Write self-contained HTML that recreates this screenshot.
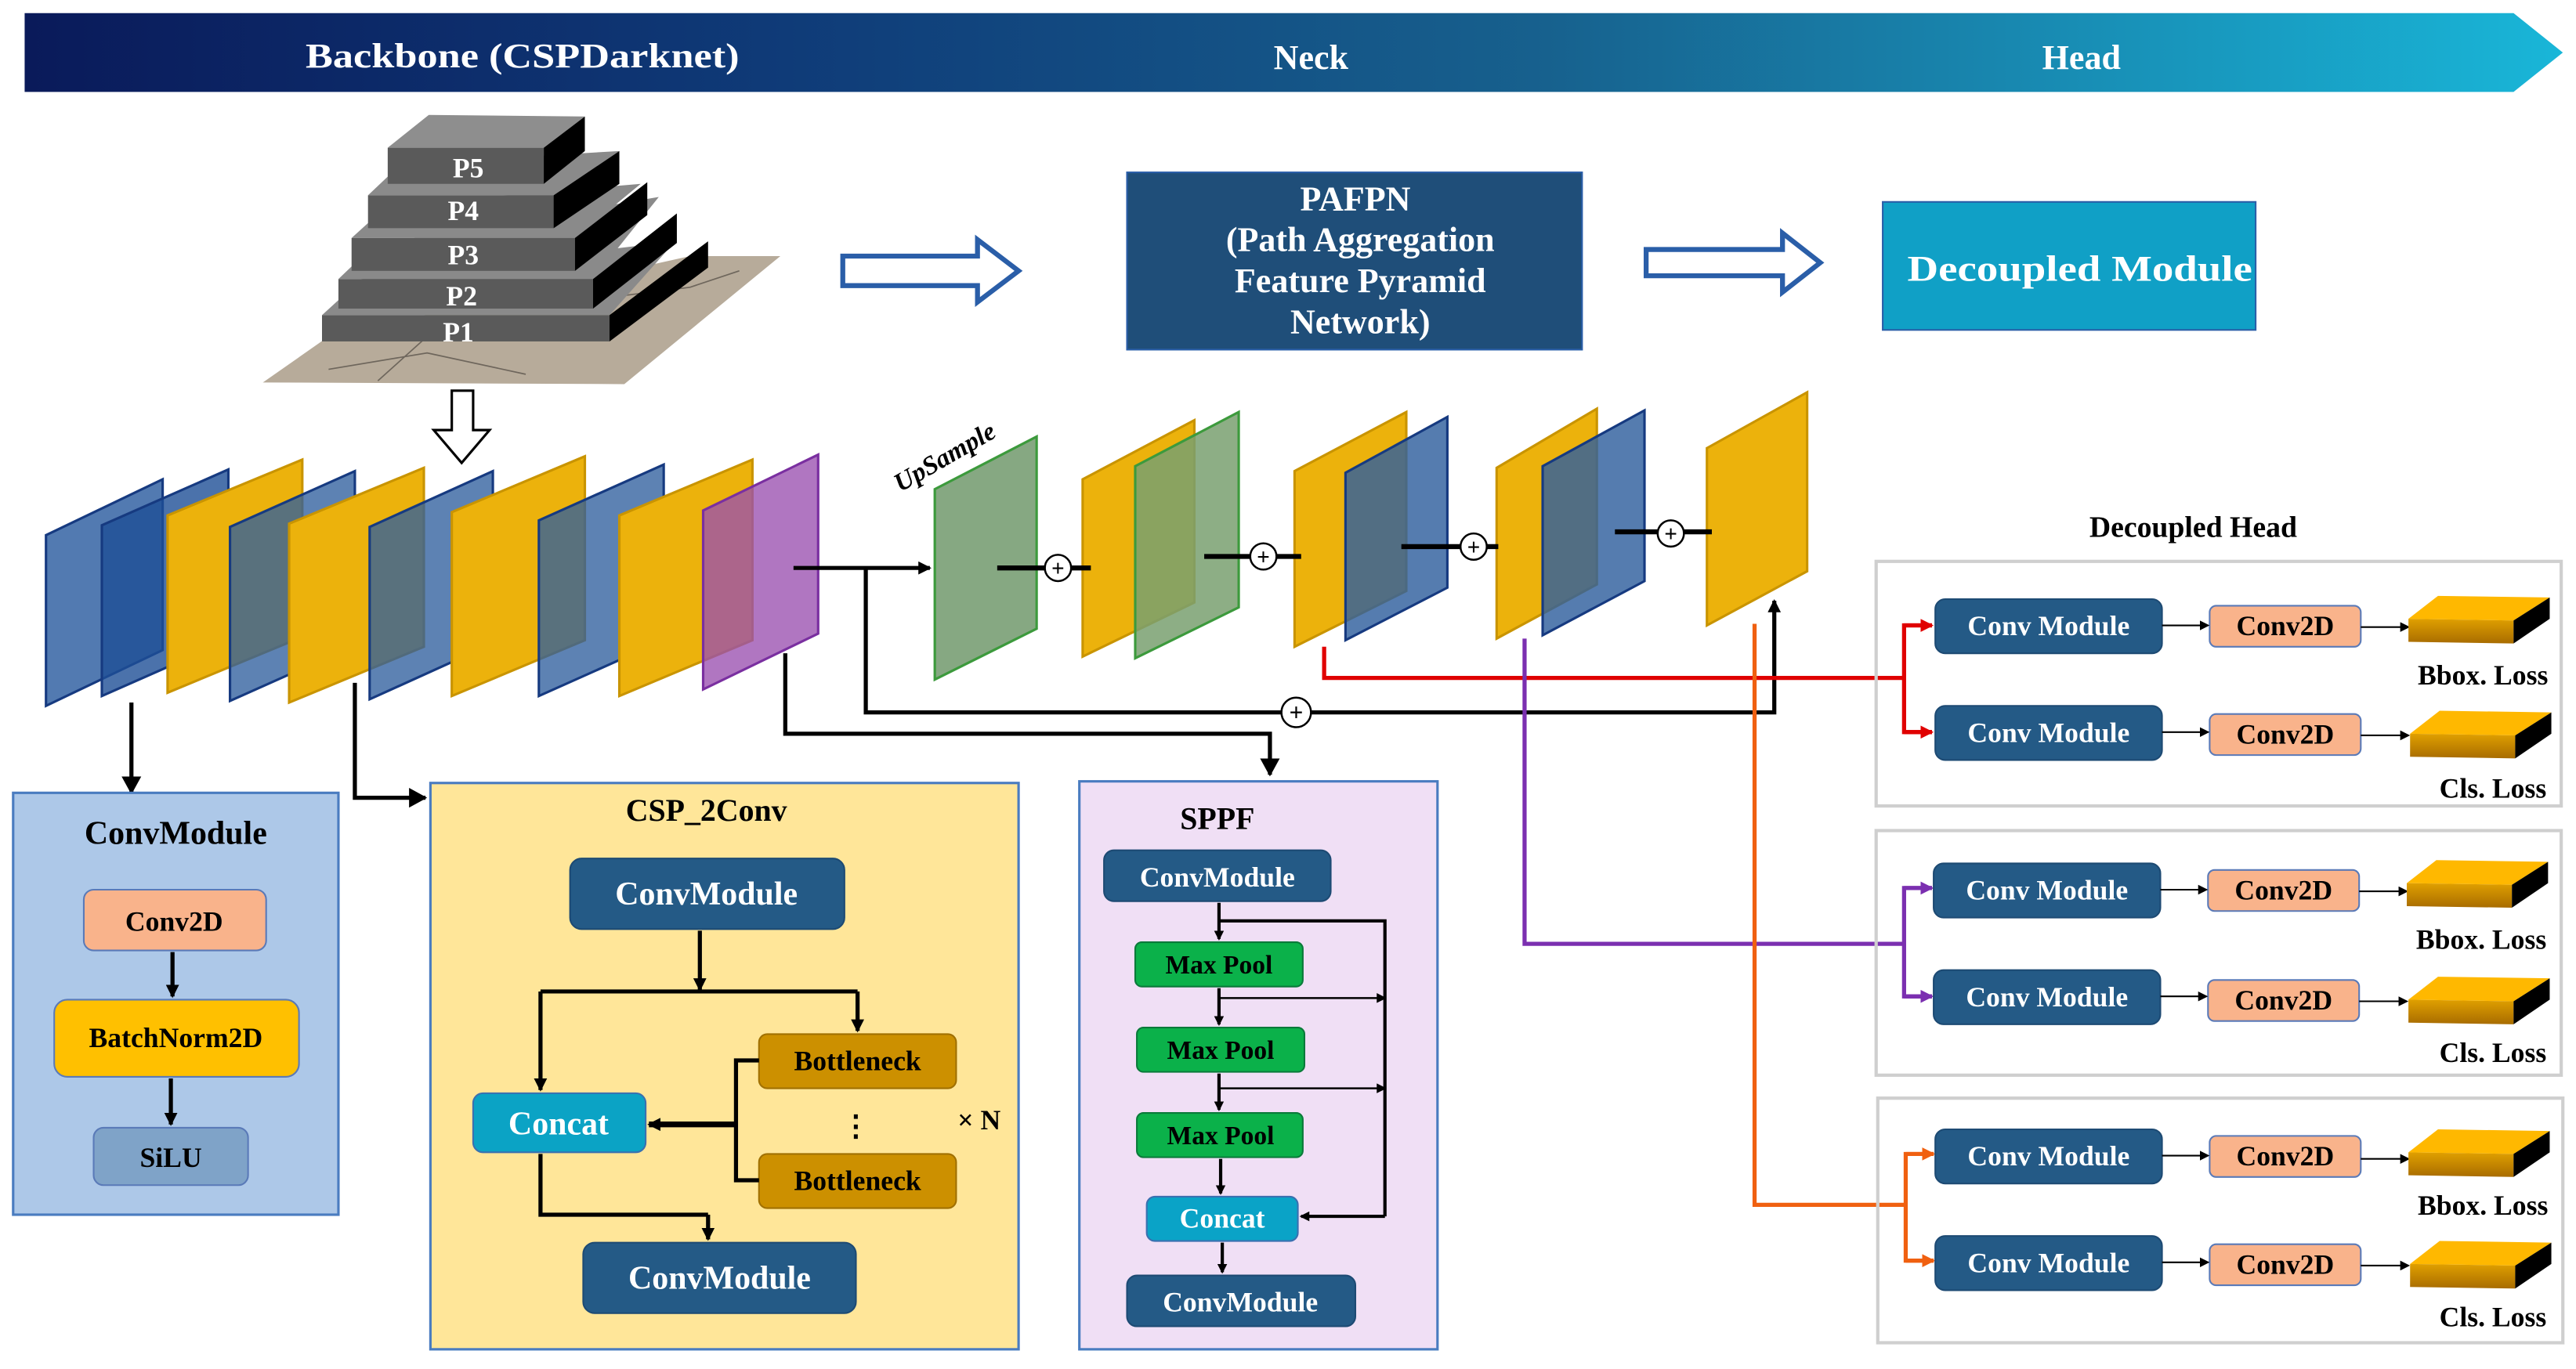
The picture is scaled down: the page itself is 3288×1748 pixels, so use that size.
<!DOCTYPE html>
<html><head><meta charset="utf-8"><style>
html,body{margin:0;padding:0;background:#fff;}
svg{display:block;}
text{font-family:"Liberation Serif",serif;font-weight:bold;}
</style></head><body>
<svg width="3288" height="1748" viewBox="0 0 1568 834" preserveAspectRatio="none" xmlns="http://www.w3.org/2000/svg">
<defs>
<linearGradient id="ban" x1="0" x2="1" y1="0" y2="0">
<stop offset="0" stop-color="#0a1a5a"/><stop offset="0.3" stop-color="#0f3b78"/><stop offset="0.6" stop-color="#17618e"/><stop offset="1" stop-color="#19b6d8"/>
</linearGradient>
<linearGradient id="slab" x1="0" x2="0" y1="0" y2="1"><stop offset="0" stop-color="#e0a000"/><stop offset="1" stop-color="#a86c00"/></linearGradient>
<marker id="ah" markerWidth="8" markerHeight="8" refX="7" refY="4" orient="auto" markerUnits="userSpaceOnUse"><path d="M0,0 L8,4 L0,8 z" fill="#000"/></marker>
<marker id="ahb" markerWidth="12" markerHeight="12" refX="10" refY="6" orient="auto" markerUnits="userSpaceOnUse"><path d="M0,0 L11,6 L0,12 z" fill="#000"/></marker>
<marker id="ahs" markerWidth="6" markerHeight="6" refX="5" refY="3" orient="auto" markerUnits="userSpaceOnUse"><path d="M0,0 L6,3 L0,6 z" fill="#000"/></marker>
<marker id="ar" markerWidth="8" markerHeight="8" refX="7" refY="4" orient="auto" markerUnits="userSpaceOnUse"><path d="M0,0 L8,4 L0,8 z" fill="#e00000"/></marker>
<marker id="ap" markerWidth="8" markerHeight="8" refX="7" refY="4" orient="auto" markerUnits="userSpaceOnUse"><path d="M0,0 L8,4 L0,8 z" fill="#7b2fb0"/></marker>
<marker id="ao" markerWidth="8" markerHeight="8" refX="7" refY="4" orient="auto" markerUnits="userSpaceOnUse"><path d="M0,0 L8,4 L0,8 z" fill="#f06010"/></marker>
</defs>

<!-- banner -->
<polygon points="15,8 1530,8 1560,32 1530,56 15,56" fill="url(#ban)"/>
<text x="186" y="41" font-size="21" fill="#fff" textLength="264" lengthAdjust="spacingAndGlyphs">Backbone (CSPDarknet)</text>
<text x="798" y="42" font-size="21" fill="#fff" text-anchor="middle">Neck</text>
<text x="1267" y="42" font-size="21" fill="#fff" text-anchor="middle">Head</text>

<!-- pyramid -->
<polygon points="160,233 380,234 475,156 420,156 200,205" fill="#b7ab9a"/>
<path d="M200,225 L260,215 L320,228 M380,180 L420,175 L450,165 M230,232 L260,205" stroke="#6e665c" stroke-width="0.8" fill="none"/>
<polygon points="196,192 220,170 411,147 371,192" fill="#8a8a8a"/>
<rect x="196" y="192" width="175" height="16" fill="#5a5a5a"/>
<polygon points="371,192 431,147 431,163 371,208" fill="#000"/>
<polygon points="206,170 228,149 401,120 361,170" fill="#8a8a8a"/>
<rect x="206" y="170" width="155" height="18" fill="#5a5a5a"/>
<polygon points="361,170 412,130 412,148 361,188" fill="#000"/>
<polygon points="214,145 236,125 390,112 350,145" fill="#8a8a8a"/>
<rect x="214" y="145" width="136" height="20" fill="#5a5a5a"/>
<polygon points="350,145 394,111 394,131 350,165" fill="#000"/>
<polygon points="224,119 244,100 377,92 337,119" fill="#8a8a8a"/>
<rect x="224" y="119" width="113" height="20" fill="#5a5a5a"/>
<polygon points="337,119 377,92 377,112 337,139" fill="#000"/>
<polygon points="236,90 261,70 356,71 331,90" fill="#8e8e8e"/>
<rect x="236" y="90" width="95" height="22" fill="#5a5a5a"/>
<polygon points="331,90 356,71 356,92 331,112" fill="#000"/>
<g fill="#fff" font-size="17" text-anchor="middle">
<text x="285" y="108">P5</text><text x="282" y="134">P4</text><text x="282" y="161">P3</text><text x="281" y="186">P2</text><text x="279" y="208">P1</text>
</g>

<!-- hollow arrows -->
<polygon points="275,238 288,238 288,262 298,262 281,282 264,262 275,262" fill="#fff" stroke="#000" stroke-width="1.5"/>
<polygon points="513,156 595,156 595,146 620,165 595,184 595,174 513,174" fill="#fff" stroke="#2a5ea8" stroke-width="3"/>
<polygon points="1002,152 1085,152 1085,142 1108,160 1085,178 1085,168 1002,168" fill="#fff" stroke="#2a5ea8" stroke-width="3"/>

<!-- PAFPN & decoupled module -->
<rect x="686" y="105" width="277" height="108" fill="#1f4e79" stroke="#2a5ea8"/>
<g fill="#fff" font-size="21" text-anchor="middle">
<text x="825" y="128">PAFPN</text><text x="828" y="153">(Path Aggregation</text><text x="828" y="178">Feature Pyramid</text><text x="828" y="203">Network)</text>
</g>
<rect x="1146" y="123" width="227" height="78" fill="#10a0c6" stroke="#2a5ea8"/>
<text x="1161" y="171" font-size="22" fill="#fff" textLength="210" lengthAdjust="spacingAndGlyphs">Decoupled Module</text>

<!-- backbone plates -->
<g stroke-width="1.5">
<polygon points="28,326 99,292 99,396 28,430" fill="#3a68a6" fill-opacity="0.88" stroke="#163a80"/>
<polygon points="62,320 139,286 139,390 62,424" fill="#1e4f96" fill-opacity="0.8" stroke="#163a80"/>
<polygon points="102,314 184,280 184,388 102,422" fill="#ecb20c" stroke="#c99400"/>
<polygon points="140,321 216,287 216,393 140,427" fill="#2f5f9e" fill-opacity="0.78" stroke="#163a80"/>
<polygon points="176,319 258,285 258,394 176,428" fill="#ecb20c" stroke="#c99400"/>
<polygon points="225,321 300,287 300,392 225,426" fill="#2f5f9e" fill-opacity="0.78" stroke="#163a80"/>
<polygon points="275,312 356,278 356,390 275,424" fill="#ecb20c" stroke="#c99400"/>
<polygon points="328,317 404,283 404,390 328,424" fill="#2f5f9e" fill-opacity="0.78" stroke="#163a80"/>
<polygon points="377,314 458,280 458,390 377,424" fill="#ecb20c" stroke="#c99400"/>
<polygon points="428,311 498,277 498,386 428,420" fill="#9a4fb0" fill-opacity="0.78" stroke="#7a2fa0"/>
</g>

<!-- neck plates -->
<g stroke-width="1.5">
<polygon points="569,298 631,266 631,383 569,414" fill="#86a882" stroke="#3c9a3c"/>
<polygon points="659,292 727,256 727,367 659,400" fill="#ecb20c" stroke="#c99400"/>
<polygon points="691,284 754,251 754,370 691,401" fill="#79a070" fill-opacity="0.85" stroke="#3c9a3c"/>
<polygon points="788,287 856,251 856,360 788,394" fill="#ecb20c" stroke="#c99400"/>
<polygon points="819,288 881,254 881,358 819,390" fill="#2f5f9e" fill-opacity="0.82" stroke="#163a80"/>
<polygon points="911,285 972,249 972,356 911,389" fill="#ecb20c" stroke="#c99400"/>
<polygon points="939,284 1001,250 1001,354 939,387" fill="#2f5f9e" fill-opacity="0.82" stroke="#163a80"/>
<polygon points="1039,273 1100,239 1100,348 1039,381" fill="#ecb20c" stroke="#c99400"/>
</g>
<text x="0" y="0" font-size="16" font-style="italic" transform="translate(548,300) rotate(-30)">UpSample</text>

<!-- plus nodes -->
<g stroke="#000" stroke-width="3" fill="none">
<line x1="607" y1="346" x2="664" y2="346"/>
<line x1="733" y1="339" x2="792" y2="339"/>
<line x1="853" y1="333" x2="912" y2="333"/>
<line x1="983" y1="324" x2="1042" y2="324"/>
</g>
<g stroke="#000" stroke-width="1.2" fill="#fff">
<circle cx="644" cy="346" r="8"/><circle cx="769" cy="339" r="8"/><circle cx="897" cy="333" r="8"/><circle cx="1017" cy="325" r="8"/>
</g>
<g font-size="14" text-anchor="middle" font-family="Liberation Sans" fill="#000">
<text x="644" y="351">+</text><text x="769" y="344">+</text><text x="897" y="338">+</text><text x="1017" y="330">+</text>
</g>

<!-- main connectors -->
<g stroke="#000" stroke-width="2.5" fill="none">
<line x1="483" y1="346" x2="566" y2="346" marker-end="url(#ah)"/>
<polyline points="527,346 527,434 1080,434 1080,366" marker-end="url(#ah)"/>
<polyline points="478,398 478,447 773,447 773,472" marker-end="url(#ahb)"/>
<line x1="80" y1="428" x2="80" y2="483" marker-end="url(#ahb)"/>
<polyline points="216,416 216,486 259,486" marker-end="url(#ahb)"/>
</g>
<circle cx="789" cy="434" r="9" fill="#fff" stroke="#000" stroke-width="1.2"/>
<text x="789" y="439" font-size="15" text-anchor="middle" font-family="Liberation Sans">+</text>

<!-- colored connectors -->
<g fill="none" stroke-width="2.5">
<polyline points="806,394 806,413 1159,413" stroke="#e00000"/>
<polyline points="1176,381 1159,381 1159,446 1176,446" stroke="#e00000"/>
<line x1="1159" y1="381" x2="1176" y2="381" stroke="#e00000" marker-end="url(#ar)"/>
<line x1="1159" y1="446" x2="1176" y2="446" stroke="#e00000" marker-end="url(#ar)"/>
<polyline points="928,389 928,575 1159,575" stroke="#7b2fb0"/>
<polyline points="1176,541 1159,541 1159,607 1176,607" stroke="#7b2fb0"/>
<line x1="1159" y1="541" x2="1176" y2="541" stroke="#7b2fb0" marker-end="url(#ap)"/>
<line x1="1159" y1="607" x2="1176" y2="607" stroke="#7b2fb0" marker-end="url(#ap)"/>
<polyline points="1068,380 1068,734 1160,734" stroke="#f06010"/>
<polyline points="1177,703 1160,703 1160,768 1177,768" stroke="#f06010"/>
<line x1="1160" y1="703" x2="1177" y2="703" stroke="#f06010" marker-end="url(#ao)"/>
<line x1="1160" y1="768" x2="1177" y2="768" stroke="#f06010" marker-end="url(#ao)"/>
</g>

<!-- decoupled head -->
<text x="1335" y="327" font-size="18" text-anchor="middle">Decoupled Head</text>
<g stroke="#cfcfcf" stroke-width="2" fill="none">
<rect x="1142" y="342" width="417" height="149"/>
<rect x="1142" y="506" width="417" height="149"/>
<rect x="1143" y="669" width="417" height="149"/>
</g>
<g>
<g fill="#245a86" stroke="#1d4a73">
<rect x="1178" y="365" width="138" height="33" rx="6"/><rect x="1178" y="430" width="138" height="33" rx="6"/>
<rect x="1177" y="526" width="138" height="33" rx="6"/><rect x="1177" y="591" width="138" height="33" rx="6"/>
<rect x="1178" y="688" width="138" height="33" rx="6"/><rect x="1178" y="753" width="138" height="33" rx="6"/>
</g>
<g fill="#fff" font-size="17" text-anchor="middle">
<text x="1247" y="387">Conv Module</text><text x="1247" y="452">Conv Module</text>
<text x="1246" y="548">Conv Module</text><text x="1246" y="613">Conv Module</text>
<text x="1247" y="710">Conv Module</text><text x="1247" y="775">Conv Module</text>
</g>
<g fill="#f9b38b" stroke="#5a7ab8">
<rect x="1345" y="369" width="92" height="25" rx="4"/><rect x="1345" y="435" width="92" height="25" rx="4"/>
<rect x="1344" y="530" width="92" height="25" rx="4"/><rect x="1344" y="597" width="92" height="25" rx="4"/>
<rect x="1345" y="692" width="92" height="25" rx="4"/><rect x="1345" y="758" width="92" height="25" rx="4"/>
</g>
<g fill="#000" font-size="17" text-anchor="middle">
<text x="1391" y="387">Conv2D</text><text x="1391" y="453">Conv2D</text>
<text x="1390" y="548">Conv2D</text><text x="1390" y="615">Conv2D</text>
<text x="1391" y="710">Conv2D</text><text x="1391" y="776">Conv2D</text>
</g>
<g stroke="#000" stroke-width="1" fill="none">
<line x1="1316" y1="381" x2="1344" y2="381" marker-end="url(#ahs)"/><line x1="1437" y1="382" x2="1466" y2="382" marker-end="url(#ahs)"/>
<line x1="1316" y1="446" x2="1344" y2="446" marker-end="url(#ahs)"/><line x1="1437" y1="448" x2="1466" y2="448" marker-end="url(#ahs)"/>
<line x1="1315" y1="542" x2="1343" y2="542" marker-end="url(#ahs)"/><line x1="1436" y1="543" x2="1465" y2="543" marker-end="url(#ahs)"/>
<line x1="1315" y1="607" x2="1343" y2="607" marker-end="url(#ahs)"/><line x1="1436" y1="610" x2="1465" y2="610" marker-end="url(#ahs)"/>
<line x1="1316" y1="704" x2="1344" y2="704" marker-end="url(#ahs)"/><line x1="1437" y1="706" x2="1466" y2="706" marker-end="url(#ahs)"/>
<line x1="1316" y1="769" x2="1344" y2="769" marker-end="url(#ahs)"/><line x1="1437" y1="771" x2="1466" y2="771" marker-end="url(#ahs)"/>
</g>
<g>
<g transform="translate(0,0)"><polygon points="1466,377 1484,363 1552,364 1530,378" fill="#ffb800"/><polygon points="1466,377 1530,378 1530,392 1466,391" fill="url(#slab)"/><polygon points="1530,378 1552,364 1552,377 1530,392" fill="#000"/></g>
<g transform="translate(1,70)"><polygon points="1466,377 1484,363 1552,364 1530,378" fill="#ffb800"/><polygon points="1466,377 1530,378 1530,392 1466,391" fill="url(#slab)"/><polygon points="1530,378 1552,364 1552,377 1530,392" fill="#000"/></g>
<g transform="translate(-1,161)"><polygon points="1466,377 1484,363 1552,364 1530,378" fill="#ffb800"/><polygon points="1466,377 1530,378 1530,392 1466,391" fill="url(#slab)"/><polygon points="1530,378 1552,364 1552,377 1530,392" fill="#000"/></g>
<g transform="translate(0,232)"><polygon points="1466,377 1484,363 1552,364 1530,378" fill="#ffb800"/><polygon points="1466,377 1530,378 1530,392 1466,391" fill="url(#slab)"/><polygon points="1530,378 1552,364 1552,377 1530,392" fill="#000"/></g>
<g transform="translate(0,325)"><polygon points="1466,377 1484,363 1552,364 1530,378" fill="#ffb800"/><polygon points="1466,377 1530,378 1530,392 1466,391" fill="url(#slab)"/><polygon points="1530,378 1552,364 1552,377 1530,392" fill="#000"/></g>
<g transform="translate(1,393)"><polygon points="1466,377 1484,363 1552,364 1530,378" fill="#ffb800"/><polygon points="1466,377 1530,378 1530,392 1466,391" fill="url(#slab)"/><polygon points="1530,378 1552,364 1552,377 1530,392" fill="#000"/></g>
</g>
<g font-size="17" text-anchor="end" fill="#000">
<text x="1551" y="417">Bbox. Loss</text><text x="1550" y="486">Cls. Loss</text>
<text x="1550" y="578">Bbox. Loss</text><text x="1550" y="647">Cls. Loss</text>
<text x="1551" y="740">Bbox. Loss</text><text x="1550" y="808">Cls. Loss</text>
</g>
</g>

<!-- ConvModule panel -->
<rect x="8" y="483" width="198" height="257" fill="#adc8e8" stroke="#4a7cc0" stroke-width="1.5"/>
<text x="107" y="514" font-size="20" text-anchor="middle">ConvModule</text>
<rect x="51" y="542" width="111" height="37" rx="6" fill="#f9b38b" stroke="#5a7ab8"/>
<text x="106" y="567" font-size="17" text-anchor="middle">Conv2D</text>
<rect x="33" y="609" width="149" height="47" rx="8" fill="#ffc000" stroke="#5a7ab8"/>
<text x="107" y="638" font-size="17" text-anchor="middle">BatchNorm2D</text>
<rect x="57" y="687" width="94" height="35" rx="6" fill="#7fa3c8" stroke="#5a7ab8"/>
<text x="104" y="711" font-size="17" text-anchor="middle">SiLU</text>
<g stroke="#000" stroke-width="2.5">
<line x1="105" y1="580" x2="105" y2="607" marker-end="url(#ah)"/>
<line x1="104" y1="657" x2="104" y2="685" marker-end="url(#ah)"/>
</g>

<!-- CSP_2Conv -->
<rect x="262" y="477" width="358" height="345" fill="#ffe699" stroke="#4a7cc0" stroke-width="1.5"/>
<text x="430" y="500" font-size="19" text-anchor="middle">CSP_2Conv</text>
<rect x="347" y="523" width="167" height="43" rx="7" fill="#245a86" stroke="#1d4a73"/>
<text x="430" y="551" font-size="20" fill="#fff" text-anchor="middle">ConvModule</text>
<rect x="288" y="666" width="105" height="36" rx="6" fill="#0ba3c5" stroke="#3a70b0"/>
<text x="340" y="691" font-size="20" fill="#fff" text-anchor="middle">Concat</text>
<rect x="462" y="630" width="120" height="33" rx="5" fill="#cc9000" stroke="#a07000"/>
<text x="522" y="652" font-size="17" text-anchor="middle">Bottleneck</text>
<rect x="462" y="703" width="120" height="33" rx="5" fill="#cc9000" stroke="#a07000"/>
<text x="522" y="725" font-size="17" text-anchor="middle">Bottleneck</text>
<rect x="355" y="757" width="166" height="43" rx="7" fill="#245a86" stroke="#1d4a73"/>
<text x="438" y="785" font-size="20" fill="#fff" text-anchor="middle">ConvModule</text>
<text x="521" y="692" font-size="18" text-anchor="middle">⋮</text>
<text x="596" y="688" font-size="17" text-anchor="middle" font-weight="normal">× N</text>
<g stroke="#000" stroke-width="2.5" fill="none">
<line x1="426" y1="567" x2="426" y2="603" marker-end="url(#ah)"/>
<polyline points="329,604 522,604"/>
<line x1="329" y1="604" x2="329" y2="664" marker-end="url(#ah)"/>
<line x1="522" y1="604" x2="522" y2="628" marker-end="url(#ah)"/>
<polyline points="462,646 448,646 448,719 462,719"/>
<line x1="448" y1="685" x2="395" y2="685" stroke-width="3.5" marker-end="url(#ah)"/>
<polyline points="329,703 329,740 431,740"/>
<line x1="431" y1="740" x2="431" y2="755" marker-end="url(#ah)"/>
</g>

<!-- SPPF -->
<rect x="657" y="476" width="218" height="346" fill="#f0dff5" stroke="#4a7cc0" stroke-width="1.5"/>
<text x="741" y="505" font-size="19" text-anchor="middle">SPPF</text>
<rect x="672" y="518" width="138" height="31" rx="6" fill="#245a86" stroke="#1d4a73"/>
<text x="741" y="540" font-size="17" fill="#fff" text-anchor="middle">ConvModule</text>
<g fill="#0bb14a" stroke="#0a7a3a">
<rect x="691" y="574" width="102" height="27" rx="4"/><rect x="692" y="626" width="102" height="27" rx="4"/><rect x="692" y="678" width="101" height="27" rx="4"/>
</g>
<g font-size="16" text-anchor="middle">
<text x="742" y="593">Max Pool</text><text x="743" y="645">Max Pool</text><text x="743" y="697">Max Pool</text>
</g>
<rect x="698" y="729" width="92" height="27" rx="5" fill="#0aa3c7" stroke="#3a70b0"/>
<text x="744" y="748" font-size="17" fill="#fff" text-anchor="middle">Concat</text>
<rect x="686" y="777" width="139" height="31" rx="6" fill="#245a86" stroke="#1d4a73"/>
<text x="755" y="799" font-size="17" fill="#fff" text-anchor="middle">ConvModule</text>
<g stroke="#000" stroke-width="2" fill="none">
<line x1="742" y1="550" x2="742" y2="572" marker-end="url(#ahs)"/>
<line x1="742" y1="602" x2="742" y2="624" marker-end="url(#ahs)"/>
<line x1="742" y1="654" x2="742" y2="676" marker-end="url(#ahs)"/>
<line x1="743" y1="706" x2="743" y2="727" marker-end="url(#ahs)"/>
<line x1="744" y1="757" x2="744" y2="775" marker-end="url(#ahs)"/>
<polyline points="742,561 843,561 843,741"/>
<line x1="742" y1="608" x2="843" y2="608" stroke-width="1.2" marker-end="url(#ahs)"/>
<line x1="743" y1="663" x2="843" y2="663" stroke-width="1.2" marker-end="url(#ahs)"/>
<line x1="843" y1="741" x2="792" y2="741" marker-end="url(#ahs)"/>
</g>
</svg>
</body></html>
